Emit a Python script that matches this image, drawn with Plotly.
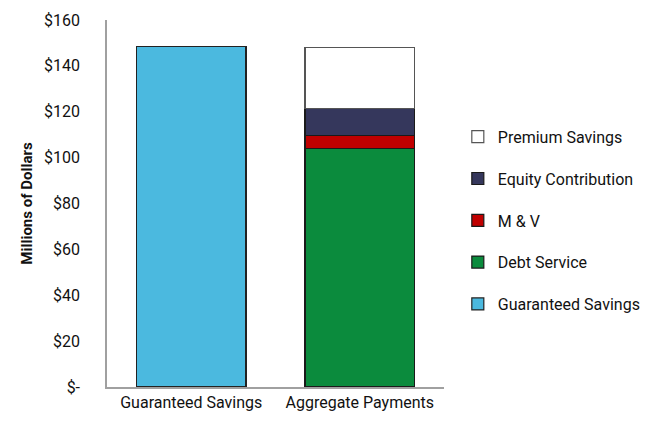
import plotly.graph_objects as go

categories = ["Guaranteed Savings", "Aggregate Payments"]
guaranteed = [148.5, None]
debt_service = [None, 104.0]
m_and_v = [None, 5.5]
equity = [None, 12.0]
premium = [None, 26.5]
y_tickvals = [0, 20, 40, 60, 80, 100, 120, 140, 160]
y_ticktext = ["$-", "$20", "$40", "$60", "$80", "$100", "$120", "$140", "$160"]

series = [
    ("Guaranteed Savings", guaranteed, "#4BB9DF", "#222222", 5),
    ("Debt Service", debt_service, "#0B8B3D", "#1a1a1a", 4),
    ("M & V", m_and_v, "#C00000", "#1a1a1a", 3),
    ("Equity Contribution", equity, "#35375C", "#1a1a1a", 2),
    ("Premium Savings", premium, "#FFFFFF", "#555555", 1),
]

fig = go.Figure()
for i, (name, vals, color, lc, rank) in enumerate(series):
    fig.add_trace(go.Bar(
        x=categories, y=vals, name=name, legendgroup=f"g{i}", legendrank=rank,
        marker=dict(color=color, line=dict(color=lc, width=1.2)),
        width=0.65,
    ))

font_family = "Roboto, sans-serif"
fig.update_layout(
    barmode="stack",
    width=650, height=425,
    margin=dict(l=99, r=208, t=12, b=46),
    plot_bgcolor="white", paper_bgcolor="white",
    font=dict(family=font_family, size=16, color="#111111"),
    showlegend=True,
    legend=dict(
        x=1.041, xanchor="left", y=0.728, yanchor="top",
        traceorder="grouped", tracegroupgap=18,
        font=dict(size=16, family=font_family),
        itemwidth=30,
    ),
    xaxis=dict(
        showline=True, linecolor="#a0a0a0", linewidth=1.5,
        ticks="", tickfont=dict(size=16), showgrid=False,
        automargin=False,
    ),
    yaxis=dict(
        range=[0, 160], tickvals=y_tickvals, ticktext=y_ticktext,
        showline=True, linecolor="#a0a0a0", linewidth=1.5,
        showgrid=False, ticks="", ticklabelstandoff=22,
        title=dict(text="<b>Millions of Dollars</b>", font=dict(size=15), standoff=8),
        zeroline=False, automargin=False,
    ),
)
fig.write_html("out.html")
